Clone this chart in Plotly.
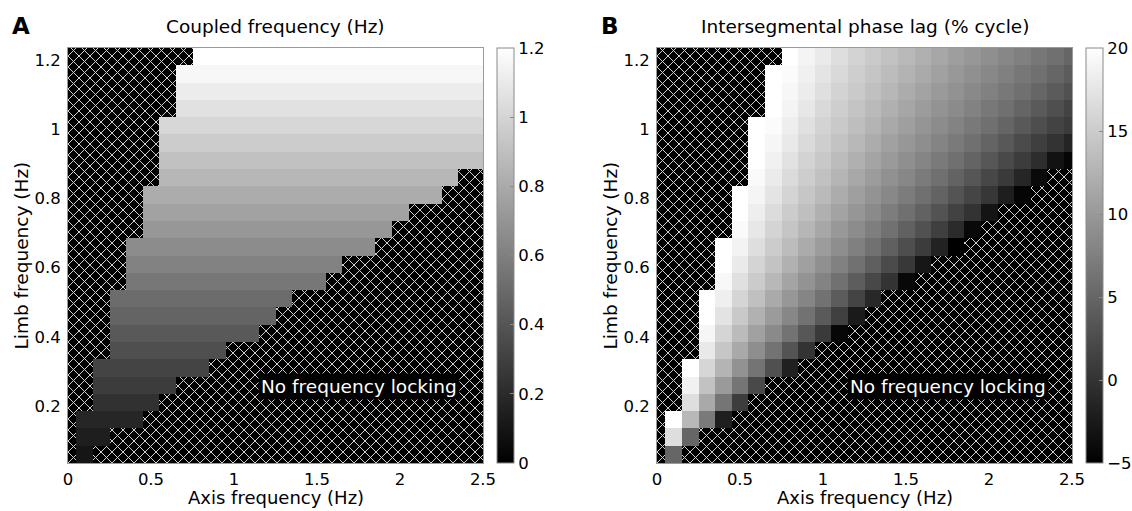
import numpy as np
import plotly.graph_objects as go

# ---------------- data ----------------
axis_freq = [0.0, 0.1, 0.2, 0.3, 0.4, 0.5, 0.6, 0.7, 0.8, 0.9, 1.0, 1.1, 1.2,
             1.3, 1.4, 1.5, 1.6, 1.7, 1.8, 1.9, 2.0, 2.1, 2.2, 2.3, 2.4, 2.5]
# limb frequencies, listed from the top row to the bottom row
limb_freq = [1.21, 1.16, 1.11, 1.06, 1.01, 0.96, 0.91, 0.86, 0.81, 0.76, 0.71, 0.66,
             0.61, 0.56, 0.51, 0.46, 0.41, 0.36, 0.31, 0.26, 0.21, 0.16, 0.11, 0.06]
# index (into axis_freq) of first and last frequency-locked cell in each row
lock_first = [8, 7, 7, 7, 6, 6, 6, 6, 5, 5, 5, 4, 4, 4, 3, 3, 3, 3, 2, 2, 2, 1, 1, 1]
lock_last = [25, 25, 25, 25, 25, 25, 25, 23, 22, 20, 19, 18, 16, 15, 13, 12, 11, 9, 8, 6, 5, 4, 2, 1]

# Panel A: coupled frequency (Hz) in each row of locked cells
coupled_freq = [1.21, 1.16, 1.11, 1.06, 1.01, 0.96, 0.91, 0.86, 0.81, 0.76, 0.71, 0.66,
                0.61, 0.56, 0.51, 0.47, 0.42, 0.37, 0.32, 0.28, 0.23, 0.18, 0.14, 0.10]

# Panel B: intersegmental phase lag (% cycle) for the locked cells of each row
phase_lag = [
    [20.5, 18.9, 17.9, 16.8, 15.7, 14.8, 14.0, 13.1, 12.3, 11.4, 10.5, 9.8, 9.0, 8.2, 7.5, 6.7, 6.0, 5.0],
    [21.0, 19.6, 18.5, 17.4, 16.3, 15.2, 14.3, 13.4, 12.5, 11.7, 10.8, 9.9, 9.1, 8.3, 7.5, 6.7, 6.0, 5.0, 4.0],
    [20.5, 19.2, 18.1, 16.9, 15.7, 14.8, 13.8, 12.9, 11.9, 11.0, 10.1, 9.3, 8.4, 7.6, 6.8, 6.0, 5.0, 3.9, 2.9],
    [20.0, 18.9, 17.6, 16.3, 15.2, 14.2, 13.2, 12.3, 11.3, 10.3, 9.4, 8.6, 7.7, 6.8, 6.0, 4.9, 3.8, 2.7, 1.6],
    [20.5, 19.6, 18.3, 17.0, 15.7, 14.7, 13.6, 12.6, 11.6, 10.6, 9.6, 8.7, 7.8, 6.9, 6.0, 4.9, 3.7, 2.6, 1.6, 0.8],
    [20.5, 19.1, 17.8, 16.4, 15.2, 14.1, 13.0, 11.9, 10.8, 9.8, 8.9, 7.9, 7.0, 6.0, 4.8, 3.6, 2.4, 1.2, 0.0, -1.5],
    [20.0, 18.6, 17.2, 15.7, 14.6, 13.4, 12.3, 11.1, 10.1, 9.0, 8.0, 7.0, 6.0, 4.8, 3.5, 2.2, 0.9, -0.6, -3.2, -4.5],
    [19.5, 18.0, 16.5, 15.1, 13.9, 12.7, 11.5, 10.3, 9.2, 8.2, 7.1, 6.0, 4.7, 3.4, 2.0, 0.7, -1.3, -4.0],
    [20.5, 19.0, 17.4, 15.8, 14.4, 13.2, 11.9, 10.6, 9.4, 8.3, 7.2, 6.0, 4.7, 3.2, 1.8, 0.4, -2.1, -4.5],
    [20.0, 18.3, 16.6, 15.0, 13.7, 12.3, 11.0, 9.7, 8.5, 7.3, 6.0, 4.6, 3.1, 1.5, 0.0, -3.0],
    [19.5, 17.6, 15.8, 14.3, 12.8, 11.4, 9.9, 8.7, 7.4, 6.1, 4.5, 2.9, 1.2, -0.8, -4.1],
    [20.5, 18.8, 16.8, 15.0, 13.4, 11.8, 10.3, 8.9, 7.5, 6.1, 4.4, 2.6, 0.9, -1.7, -5.0],
    [20.0, 17.9, 15.8, 14.1, 12.4, 10.7, 9.1, 7.6, 6.1, 4.3, 2.4, 0.5, -2.8],
    [19.3, 17.0, 14.9, 13.0, 11.1, 9.4, 7.8, 6.1, 4.1, 2.1, 0.0, -4.2],
    [20.5, 18.4, 15.9, 13.8, 11.7, 9.8, 8.0, 6.2, 4.0, 1.7, -1.1],
    [20.0, 17.3, 14.7, 12.4, 10.2, 8.2, 6.2, 3.8, 1.3, -2.5],
    [19.1, 15.9, 13.3, 10.8, 8.5, 6.3, 3.5, 0.7, -4.3],
    [17.8, 14.4, 11.6, 8.9, 6.3, 3.2, 0.0],
    [20.0, 16.0, 12.6, 9.3, 6.4, 2.8, -1.9],
    [18.6, 14.0, 10.1, 6.5, 2.2],
    [16.8, 11.6, 6.5, 1.0],
    [21.0, 13.0, 7.0, -2.0],
    [16.8, 5.0],
    [5.0],
]

x_ticks = [0, 0.5, 1, 1.5, 2, 2.5]
x_ticklabels = ["0", "0.5", "1", "1.5", "2", "2.5"]
y_ticks = [0.2, 0.4, 0.6, 0.8, 1.0, 1.2]
y_ticklabels = ["0.2", "0.4", "0.6", "0.8", "1", "1.2"]
cbA_ticks = [0, 0.2, 0.4, 0.6, 0.8, 1.0, 1.2]
cbA_labels = ["0", "0.2", "0.4", "0.6", "0.8", "1", "1.2"]
cbB_ticks = [-5, 0, 5, 10, 15, 20]
cbB_labels = ["\u22125", "0", "5", "10", "15", "20"]

titles = ["Coupled frequency (Hz)", "Intersegmental phase lag (% cycle)"]
panel_letters = ["A", "B"]
x_title = "Axis frequency (Hz)"
y_title = "Limb frequency (Hz)"
no_lock_text = "No frequency locking"

# ---------------- build grids ----------------
n_rows, n_cols = len(limb_freq), len(axis_freq)
zA = [[None] * n_cols for _ in range(n_rows)]
zB = [[None] * n_cols for _ in range(n_rows)]
for r in range(n_rows):
    for c in range(lock_first[r], lock_last[r] + 1):
        zA[r][c] = coupled_freq[r]
        zB[r][c] = phase_lag[r][c - lock_first[r]]
# ascending y order for plotting
y_asc = limb_freq[::-1]
zA = zA[::-1]
zB = zB[::-1]

# ---------------- layout geometry ----------------
W, H = 1132, 511
FONT = "DejaVu Sans"
plot_w = 415
left_A, left_B = 68, 657
top_px, bot_px = 48, 463
ymin, ymax = 0.035, 1.235
xmin, xmax = 0.0, 2.5


def px_x(p):
    return p / W


def px_y(p):
    return 1 - p / H


gray = [[0, "black"], [1, "white"]]


def cbar(x_left, tickvals, ticktext):
    return dict(x=px_x(x_left), xanchor="left", xpad=0, ypad=0,
                y=px_y((top_px + bot_px) / 2), yanchor="middle",
                len=(bot_px - top_px) / H, lenmode="fraction",
                thickness=17, thicknessmode="pixels",
                outlinecolor="#8a8a8a", outlinewidth=1,
                tickvals=tickvals, ticktext=ticktext,
                ticks="inside", ticklen=4, tickcolor="#888",
                tickfont=dict(family=FONT, size=16.5, color="black"))


fig = go.Figure()
fig.add_trace(go.Heatmap(
    x=axis_freq, y=y_asc, z=zA, zmin=0, zmax=1.2, colorscale=gray,
    xaxis="x", yaxis="y", hoverinfo="skip",
    colorbar=cbar(497, cbA_ticks, cbA_labels)))
fig.add_trace(go.Heatmap(
    x=axis_freq, y=y_asc, z=zB, zmin=-5, zmax=20, colorscale=gray,
    xaxis="x2", yaxis="y2", hoverinfo="skip",
    colorbar=cbar(497 + 589, cbB_ticks, cbB_labels)))


def hatch_path(spacing_px=11.0):
    d = spacing_px / plot_w
    segs = []

    def to_data(u, v):
        return xmin + u * (xmax - xmin), ymin + v * (ymax - ymin)
    k = -int(np.ceil(1 / d)) - 1
    while k * d < 1:
        c = k * d
        if -1 < c < 1:
            a, b = to_data(max(0, c), max(0, -c))
            e, f = to_data(min(1, 1 + c), min(1, 1 - c))
            segs.append(f"M{a:.4f},{b:.4f}L{e:.4f},{f:.4f}")
        k += 1
    k = 1
    while k * d < 2:
        c = k * d
        a, b = to_data(max(0, c - 1), min(1, c))
        e, f = to_data(min(1, c), max(0, c - 1))
        segs.append(f"M{a:.4f},{b:.4f}L{e:.4f},{f:.4f}")
        k += 1
    return "".join(segs)


hp = hatch_path()
shapes = []
for xr, yr in [("x", "y"), ("x2", "y2")]:
    shapes.append(dict(type="path", path=hp, xref=xr, yref=yr, layer="below",
                       line=dict(color="#d0d0d0", width=1)))

axis_common = dict(showgrid=False, zeroline=False, showline=True, mirror=True,
                   linecolor="#9a9a9a", linewidth=1, ticks="",
                   tickfont=dict(family=FONT, size=16.5, color="black"))

fig.update_layout(
    width=W, height=H, margin=dict(l=0, r=0, t=0, b=0, autoexpand=False),
    paper_bgcolor="white", plot_bgcolor="black", showlegend=False,
    xaxis=dict(domain=[px_x(left_A), px_x(left_A + plot_w)], range=[xmin, xmax],
               anchor="y", tickvals=x_ticks, ticktext=x_ticklabels,
               ticklabelstandoff=1, **axis_common),
    yaxis=dict(domain=[px_y(bot_px), px_y(top_px)], range=[ymin, ymax],
               anchor="x", tickvals=y_ticks, ticktext=y_ticklabels,
               ticklabelstandoff=3, **axis_common),
    xaxis2=dict(domain=[px_x(left_B), px_x(left_B + plot_w)], range=[xmin, xmax],
                anchor="y2", tickvals=x_ticks, ticktext=x_ticklabels,
                ticklabelstandoff=1, **axis_common),
    yaxis2=dict(domain=[px_y(bot_px), px_y(top_px)], range=[ymin, ymax],
                anchor="x2", tickvals=y_ticks, ticktext=y_ticklabels,
                ticklabelstandoff=3, **axis_common),
    shapes=shapes,
)

ann = []
for i, left in enumerate([left_A, left_B]):
    off = left - left_A
    xr = "x" if i == 0 else "x2"
    yr = "y" if i == 0 else "y2"
    ann.append(dict(text=titles[i], xref="paper", yref="paper",
                    x=px_x(left + plot_w / 2), y=px_y(26), xanchor="center", yanchor="middle",
                    showarrow=False, font=dict(family=FONT, size=18.5, color="black")))
    ann.append(dict(text="<b>" + panel_letters[i] + "</b>", xref="paper", yref="paper",
                    x=px_x(21 + off), y=px_y(26.5), xanchor="center", yanchor="middle",
                    showarrow=False, font=dict(family=FONT, size=23, color="black")))
    ann.append(dict(text=x_title, xref="paper", yref="paper",
                    x=px_x(left + plot_w / 2), y=px_y(497), xanchor="center", yanchor="middle",
                    showarrow=False, borderpad=0,
                    font=dict(family=FONT, size=18, color="black")))
    ann.append(dict(text=y_title, xref="paper", yref="paper", textangle=-90,
                    x=px_x(21 + off), y=px_y((top_px + bot_px) / 2), xanchor="center", yanchor="middle",
                    showarrow=False, font=dict(family=FONT, size=18.5, color="black")))
    ann.append(dict(text=no_lock_text, xref=xr + " domain", yref=yr + " domain",
                    x=0.70, y=(bot_px - 386) / plot_w, xanchor="center", yanchor="middle",
                    showarrow=False, bgcolor="black", borderpad=2,
                    font=dict(family=FONT, size=18.5, color="white")))
fig.update_layout(annotations=ann)

fig.write_html("out.html", config={"displayModeBar": False},
               post_script="document.body.style.margin='0';document.body.style.overflow='hidden';")
